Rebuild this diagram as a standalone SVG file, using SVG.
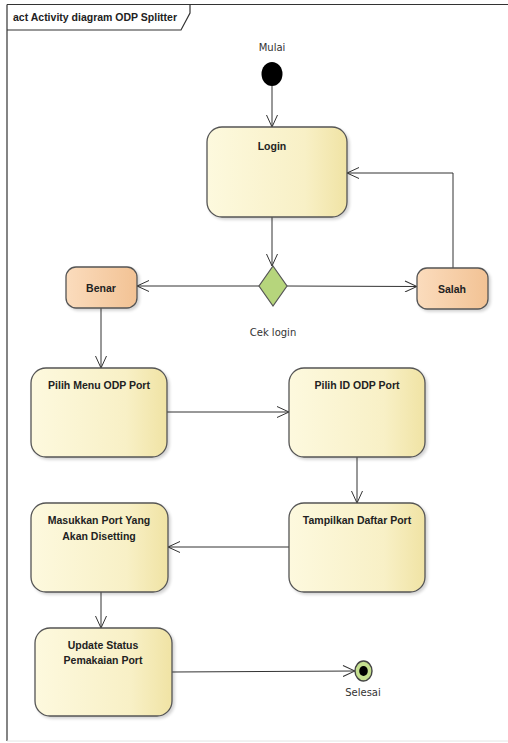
<svg xmlns="http://www.w3.org/2000/svg" width="508" height="743" viewBox="0 0 508 743">
  <defs>
    <linearGradient id="actFill" x1="0" y1="0" x2="1" y2="0">
      <stop offset="0" stop-color="#fdf9de"/>
      <stop offset="0.7" stop-color="#f8f0c6"/>
      <stop offset="1" stop-color="#f0e3a4"/>
    </linearGradient>
    <linearGradient id="resFill" x1="0" y1="0" x2="1" y2="0">
      <stop offset="0" stop-color="#fbdcbd"/>
      <stop offset="1" stop-color="#f2c294"/>
    </linearGradient>
    <filter id="shadow" x="-10%" y="-10%" width="130%" height="130%">
      <feGaussianBlur in="SourceAlpha" stdDeviation="1.5"/>
      <feOffset dx="2" dy="2" result="b"/>
      <feComponentTransfer><feFuncA type="linear" slope="0.18"/></feComponentTransfer>
      <feMerge><feMergeNode/><feMergeNode in="SourceGraphic"/></feMerge>
    </filter>
    <marker id="open" viewBox="0 0 13 12" refX="12.5" refY="6" markerWidth="13" markerHeight="12" markerUnits="userSpaceOnUse" orient="auto">
      <path d="M0.5,0.5 L12.5,6 L0.5,11.5" fill="none" stroke="#333" stroke-width="1"/>
    </marker>
  </defs>
  <style>
    .frame { fill: none; stroke: #333; stroke-width: 1.2; }
    .act { fill: url(#actFill); stroke: #555; stroke-width: 1.3; filter: url(#shadow); }
    .res { fill: url(#resFill); stroke: #555; stroke-width: 1.3; filter: url(#shadow); }
    .lbl { font-family: "Liberation Sans", Arial, sans-serif; font-size: 10.5px; font-weight: bold; fill: #222; text-anchor: middle; }
    .note { font-family: "DejaVu Sans", "Liberation Sans", sans-serif; font-size: 10px; fill: #333; text-anchor: middle; }
    .flow { fill: none; stroke: #333; stroke-width: 1; marker-end: url(#open); }
    .plain { fill: none; stroke: #333; stroke-width: 1; }
  </style>

  <rect width="508" height="743" fill="#ffffff"/>

  <!-- diagram frame with name tab -->
  <g id="frame">
    <line x1="7" y1="4.5" x2="508" y2="4.5" class="frame"/>
    <line x1="7" y1="4.5" x2="7" y2="741" class="frame"/>
    <line x1="7" y1="741" x2="508" y2="741" stroke="#e4e4e4" stroke-width="1"/>
    <path d="M7,30 L181,30 L190,13 L190,4.5" class="frame"/>
    <text x="13" y="21" font-family="'Liberation Sans', Arial, sans-serif" font-size="10.5" font-weight="bold" fill="#222">act Activity diagram ODP Splitter</text>
  </g>

  <!-- connectors -->
  <g id="connectors">
    <line x1="272" y1="86" x2="272" y2="127" class="flow"/>
    <line x1="272" y1="217" x2="272" y2="266" class="flow"/>
    <line x1="259" y1="286" x2="137" y2="286" class="flow"/>
    <line x1="287" y1="286" x2="417" y2="286.5" class="flow"/>
    <polyline points="453,268 453,173 347,173" class="flow"/>
    <line x1="101" y1="308" x2="101" y2="368" class="flow"/>
    <line x1="167" y1="412" x2="289" y2="412" class="flow"/>
    <line x1="357" y1="457" x2="357" y2="503" class="flow"/>
    <line x1="289" y1="547" x2="168" y2="547" class="flow"/>
    <line x1="101" y1="592" x2="101" y2="628" class="flow"/>
    <line x1="172" y1="672" x2="355" y2="671" class="flow"/>
  </g>

  <!-- initial node -->
  <g id="start">
    <ellipse cx="272" cy="74" rx="10.5" ry="12" fill="#000"/>
    <text x="272" y="51" class="note">Mulai</text>
  </g>

  <g id="login">
    <rect x="207" y="127" width="140" height="90" rx="15" class="act"/>
    <text x="272" y="150" class="lbl">Login</text>
  </g>

  <g id="cek-login">
    <polygon points="273,266 287,286 273,306 259,286" fill="#b6d57c" stroke="#555" stroke-width="1.2"/>
    <text x="273" y="336" class="note">Cek login</text>
  </g>

  <g id="benar">
    <rect x="66" y="267" width="71" height="41" rx="10" class="res"/>
    <text x="101" y="292" class="lbl">Benar</text>
  </g>

  <g id="salah">
    <rect x="417" y="268" width="71" height="41" rx="10" class="res"/>
    <text x="452" y="293" class="lbl">Salah</text>
  </g>

  <g id="pilih-menu">
    <rect x="31" y="368" width="136" height="89" rx="15" class="act"/>
    <text x="99" y="389" class="lbl">Pilih Menu ODP Port</text>
  </g>

  <g id="pilih-id">
    <rect x="289" y="368" width="136" height="89" rx="15" class="act"/>
    <text x="357" y="389" class="lbl">Pilih ID ODP Port</text>
  </g>

  <g id="tampilkan">
    <rect x="289" y="503" width="136" height="89" rx="15" class="act"/>
    <text x="357" y="524" class="lbl">Tampilkan Daftar Port</text>
  </g>

  <g id="masukkan">
    <rect x="31" y="503" width="137" height="89" rx="15" class="act"/>
    <text x="99" y="524" class="lbl">Masukkan Port Yang</text>
    <text x="99" y="540" class="lbl">Akan Disetting</text>
  </g>

  <g id="update">
    <rect x="35" y="628" width="137" height="88" rx="15" class="act"/>
    <text x="103" y="649" class="lbl">Update  Status</text>
    <text x="103" y="664" class="lbl">Pemakaian Port</text>
  </g>

  <!-- final node -->
  <g id="end">
    <ellipse cx="363.5" cy="671" rx="8.5" ry="10" fill="#c5e08f" stroke="#444" stroke-width="1.4"/>
    <ellipse cx="363.5" cy="671" rx="4.3" ry="5" fill="#000"/>
    <text x="363" y="696" class="note">Selesai</text>
  </g>
</svg>
